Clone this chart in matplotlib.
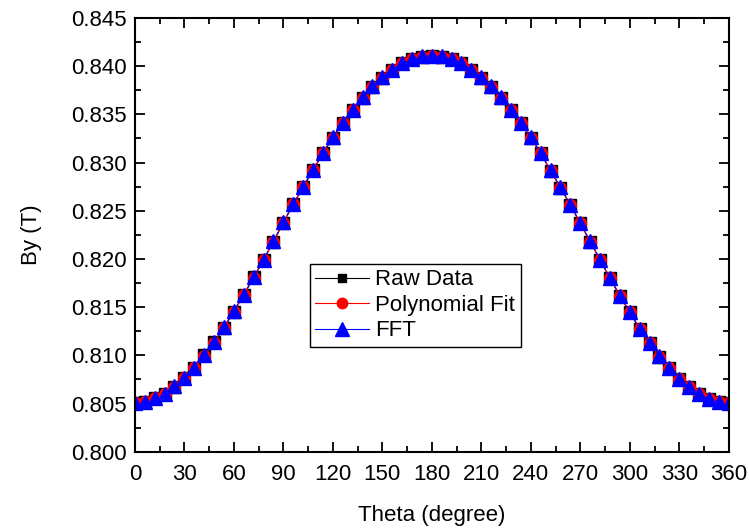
import matplotlib
matplotlib.use("Agg")
import matplotlib.pyplot as plt
from matplotlib.ticker import MultipleLocator, FormatStrFormatter

plt.rcParams['font.family'] = ['Liberation Sans', 'DejaVu Sans']

theta = list(range(0, 361, 6))

raw_data = [0.80505, 0.80515, 0.80557, 0.80601, 0.80677, 0.80764, 0.80868, 0.80999,
            0.81134, 0.81289, 0.81455, 0.81628, 0.81808, 0.81991, 0.82181, 0.82378,
            0.82568, 0.82745, 0.82924, 0.83097, 0.83259, 0.83408, 0.83546, 0.83674,
            0.83788, 0.83881, 0.83961, 0.84030, 0.84072, 0.84099, 0.84106, 0.84099,
            0.84072, 0.84030, 0.83961, 0.83881, 0.83788, 0.83674, 0.83546, 0.83408,
            0.83259, 0.83097, 0.82917, 0.82741, 0.82561, 0.82371, 0.82181, 0.81991,
            0.81801, 0.81618, 0.81449, 0.81275, 0.81127, 0.80988, 0.80868, 0.80757,
            0.80671, 0.80598, 0.80546, 0.80515, 0.80505]

poly_fit = [0.80503, 0.80514, 0.80555, 0.80600, 0.80675, 0.80762, 0.80866, 0.80997,
            0.81132, 0.81287, 0.81453, 0.81626, 0.81806, 0.81989, 0.82179, 0.82376,
            0.82566, 0.82743, 0.82922, 0.83095, 0.83257, 0.83406, 0.83544, 0.83672,
            0.83786, 0.83879, 0.83959, 0.84028, 0.84070, 0.84097, 0.84104, 0.84097,
            0.84070, 0.84028, 0.83959, 0.83879, 0.83786, 0.83672, 0.83544, 0.83406,
            0.83257, 0.83095, 0.82915, 0.82739, 0.82559, 0.82369, 0.82179, 0.81989,
            0.81799, 0.81616, 0.81447, 0.81273, 0.81125, 0.80986, 0.80866, 0.80755,
            0.80669, 0.80596, 0.80544, 0.80514, 0.80503]

fft_fit = [0.80507, 0.80517, 0.80559, 0.80603, 0.80679, 0.80766, 0.80870, 0.81001,
           0.81136, 0.81291, 0.81457, 0.81630, 0.81810, 0.81993, 0.82183, 0.82380,
           0.82570, 0.82747, 0.82926, 0.83099, 0.83261, 0.83410, 0.83548, 0.83676,
           0.83790, 0.83883, 0.83963, 0.84032, 0.84074, 0.84101, 0.84108, 0.84101,
           0.84074, 0.84032, 0.83963, 0.83883, 0.83790, 0.83676, 0.83548, 0.83410,
           0.83261, 0.83099, 0.82919, 0.82743, 0.82563, 0.82373, 0.82183, 0.81993,
           0.81803, 0.81620, 0.81451, 0.81277, 0.81129, 0.80990, 0.80870, 0.80759,
           0.80673, 0.80600, 0.80548, 0.80517, 0.80507]

fig = plt.figure(figsize=(7.49, 5.29), dpi=100)
ax = fig.add_axes([0.180, 0.146, 0.793, 0.820])

ax.plot(theta, raw_data, color='black', lw=0.8, marker='s', markersize=8,
        markerfacecolor='black', markeredgecolor='black', label='Raw Data')
ax.plot(theta, poly_fit, color='red', lw=0.8, marker='o', markersize=8.5,
        markerfacecolor='red', markeredgecolor='red', label='Polynomial Fit')
ax.plot(theta, fft_fit, color='blue', lw=0.8, ls=(0, (3, 2)), marker='^', markersize=9.5,
        markerfacecolor='blue', markeredgecolor='blue', label='FFT')

ax.set_xlim(0, 360)
ax.set_ylim(0.800, 0.845)
ax.xaxis.set_major_locator(MultipleLocator(30))
ax.xaxis.set_minor_locator(MultipleLocator(15))
ax.yaxis.set_major_locator(MultipleLocator(0.005))
ax.yaxis.set_minor_locator(MultipleLocator(0.0025))
ax.yaxis.set_major_formatter(FormatStrFormatter('%.3f'))

ax.tick_params(which='both', direction='in', top=True, right=True, labelsize=16, width=1.3)
ax.tick_params(which='major', length=7)
ax.tick_params(which='minor', length=4)
ax.tick_params(axis='x', which='major', pad=9)
ax.tick_params(axis='y', which='major', pad=6)
for s in ax.spines.values():
    s.set_linewidth(1.5)

ax.set_xlabel('Theta (degree)', fontsize=16, labelpad=14)
ax.set_ylabel('By (T)', fontsize=16, labelpad=21)

leg = ax.legend(loc='upper left', bbox_to_anchor=(0.2946, 0.433), fontsize=16,
                frameon=True, fancybox=False, edgecolor='black', framealpha=1,
                handlelength=2.4, handletextpad=0.3, borderpad=0.25, borderaxespad=0,
                labelspacing=0.2)
leg.get_frame().set_linewidth(1.0)
for h, ms in zip(leg.legend_handles, [5.5, 7.5, 9.5]):
    h.set_markersize(ms)
    h.set_linestyle('-')

fig.savefig('out.png', dpi=100)
